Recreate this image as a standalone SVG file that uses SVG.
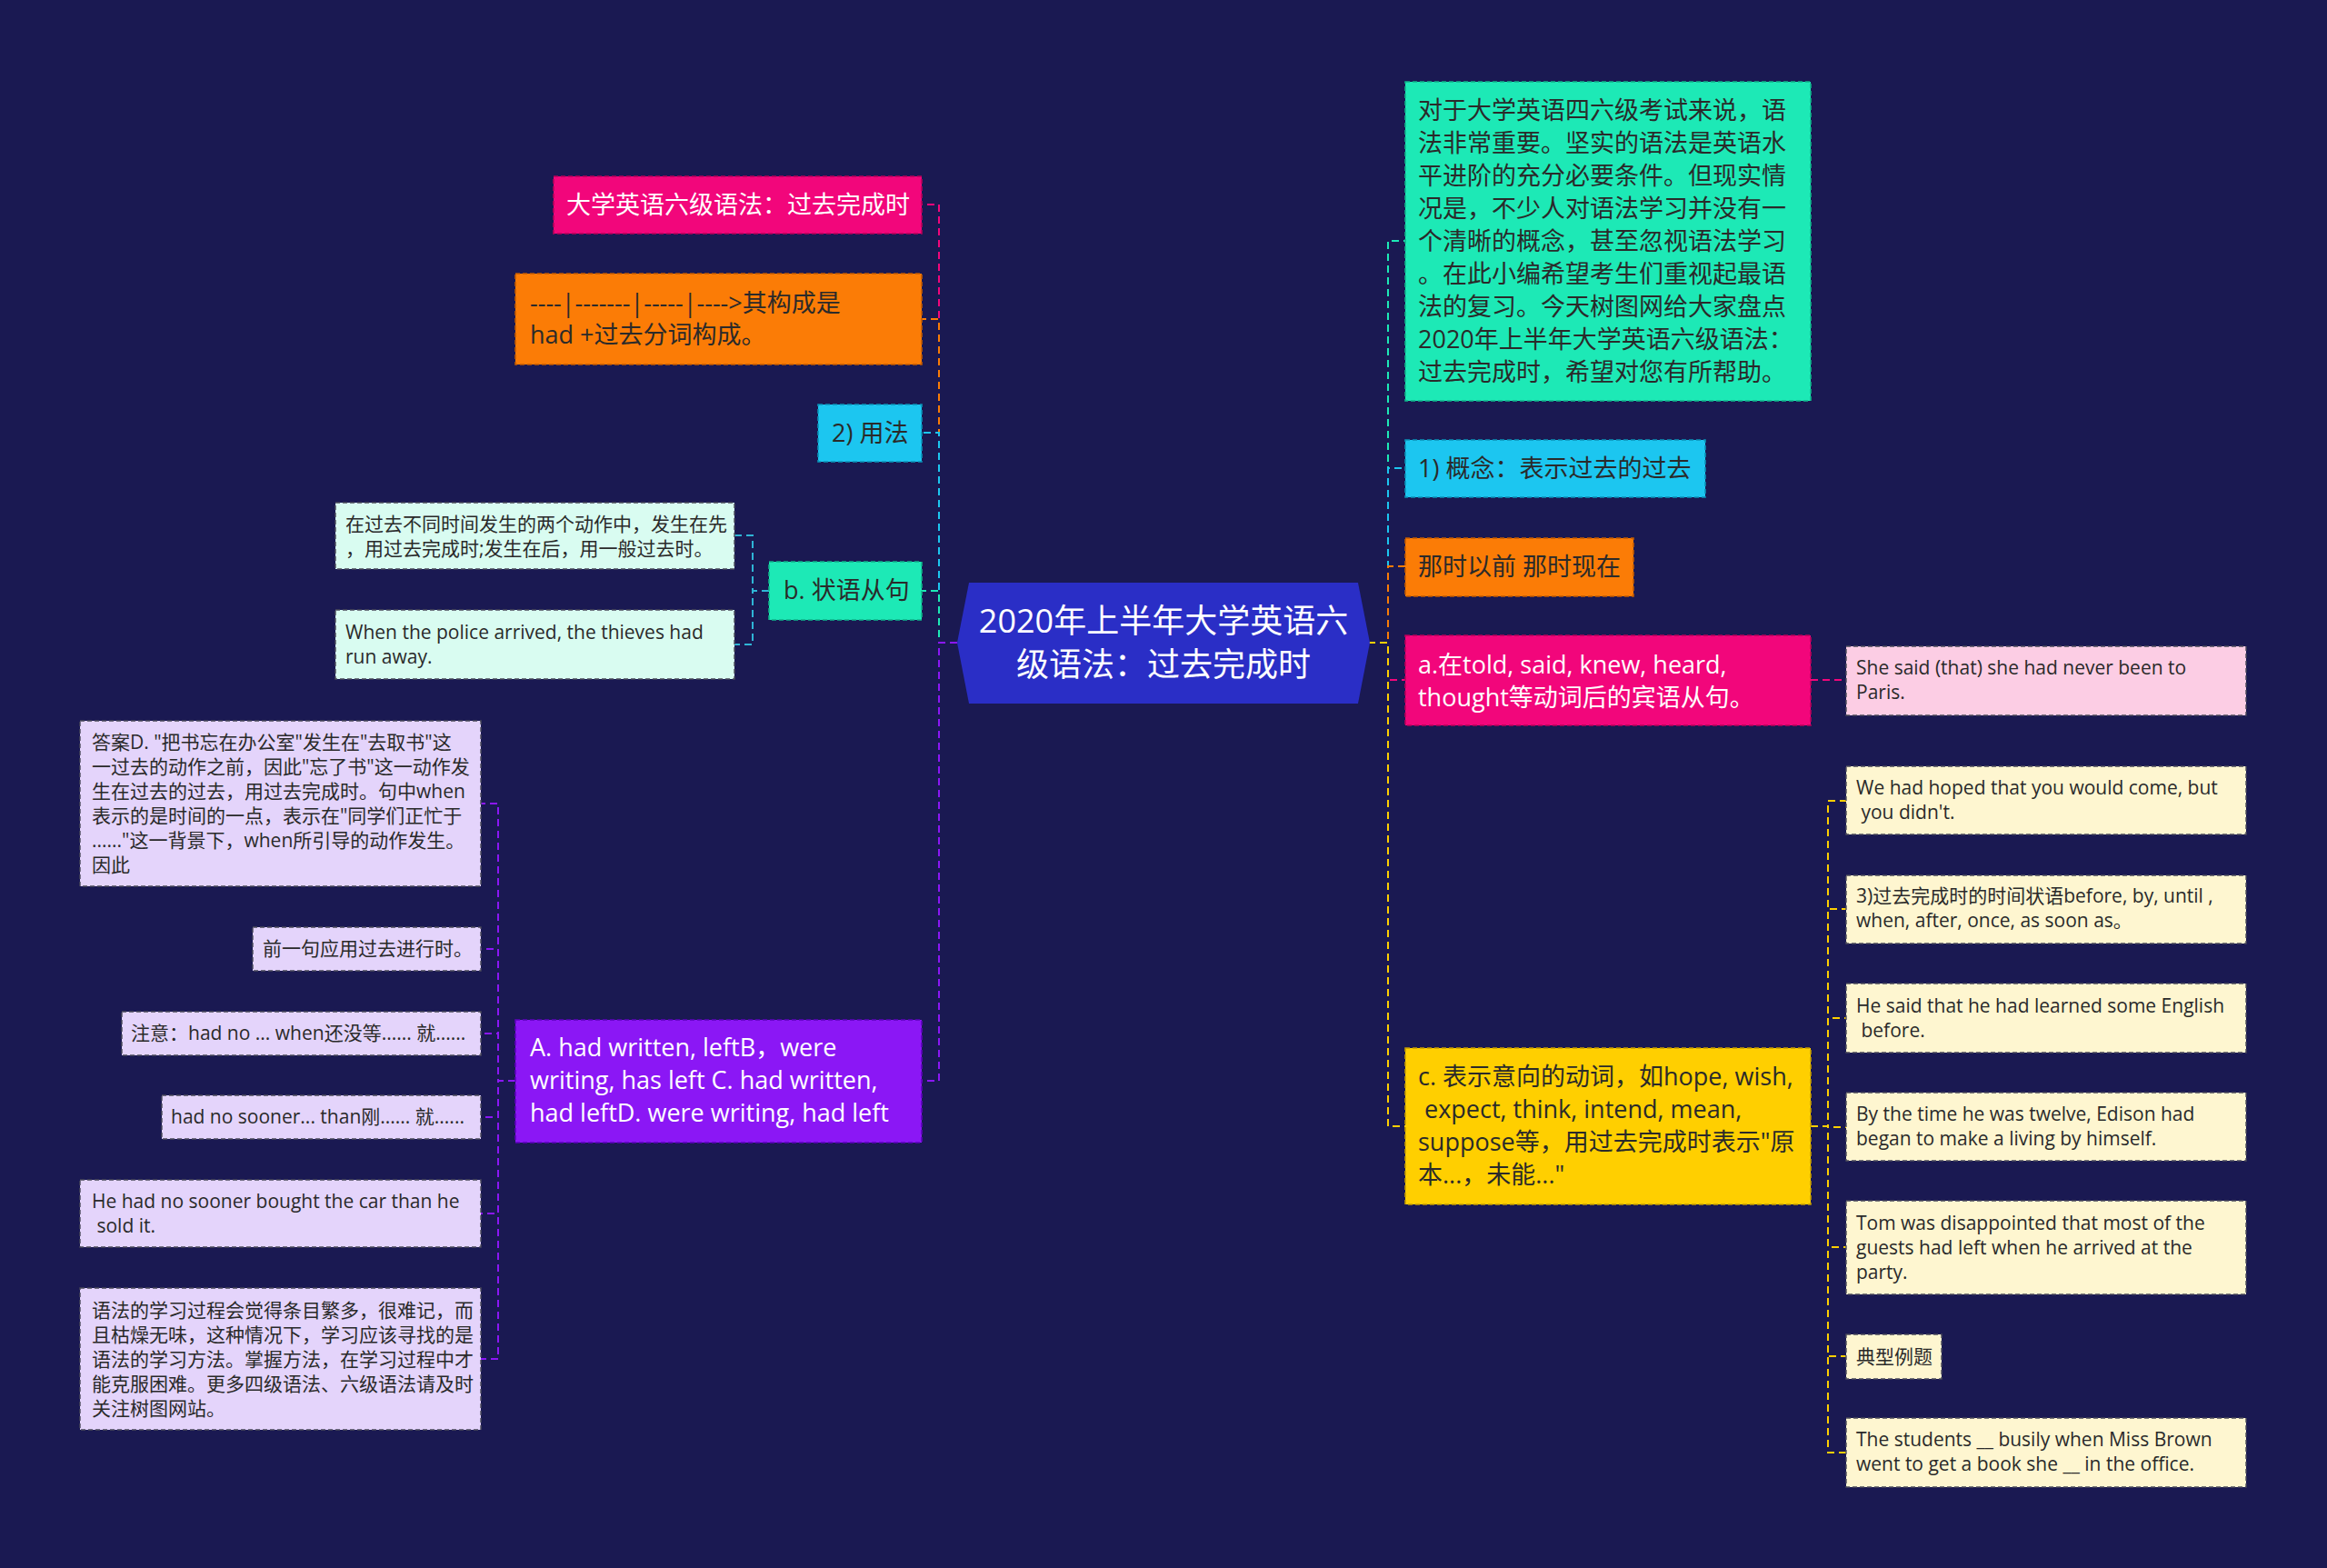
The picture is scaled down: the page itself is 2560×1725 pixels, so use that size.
<svg xmlns="http://www.w3.org/2000/svg" width="2560" height="1725" viewBox="0 0 2560 1725">
<style>
text{font-family:"Open Sans","Noto Sans CJK SC",sans-serif;}
.L{font-size:27px;}
.S{font-size:21px;}
.C{font-size:36px;fill:#ffffff;}
.w{fill:#ffffff;}
.d{fill:#2a2a2a;}
.c{fill:none;stroke-width:2;stroke-dasharray:8 5;}
.b{stroke-width:1.6;stroke-dasharray:5 3;}
.bl{stroke:#4a4a5a;stroke-width:1.4;stroke-dasharray:5 3;}
</style>
<rect x="0" y="0" width="2560" height="1725" fill="#1a1952"/>

<g id="connectors">
  <!-- left main -->
  <path class="c" stroke="#f2067b" d="M1053 707 H1033 V225 H1014"/>
  <path class="c" stroke="#fb7c06" d="M1053 707 H1033 V351 H1014"/>
  <path class="c" stroke="#1cc6f0" d="M1053 707 H1033 V476 H1014"/>
  <path class="c" stroke="#1de9b6" d="M1053 707 H1033 V650 H1014"/>
  <path class="c" stroke="#8b17f5" d="M1053 707 H1033 V1189 H1014"/>
  <!-- b children -->
  <path class="c" stroke="#2fb5d6" d="M846 650 H828 V589 H808"/>
  <path class="c" stroke="#2fb5d6" d="M846 650 H828 V709 H808"/>
  <!-- purple children -->
  <path class="c" stroke="#8b17f5" d="M567 1189 H548 V884 H529"/>
  <path class="c" stroke="#8b17f5" d="M567 1189 H548 V1044 H529"/>
  <path class="c" stroke="#8b17f5" d="M567 1189 H548 V1137 H529"/>
  <path class="c" stroke="#8b17f5" d="M567 1189 H548 V1229 H529"/>
  <path class="c" stroke="#8b17f5" d="M567 1189 H548 V1335 H529"/>
  <path class="c" stroke="#8b17f5" d="M567 1189 H548 V1495 H529"/>
  <!-- right main -->
  <path class="c" stroke="#1de9b6" d="M1505 707 H1527 V265 H1546"/>
  <path class="c" stroke="#1cc6f0" d="M1505 707 H1527 V515 H1546"/>
  <path class="c" stroke="#fb7c06" d="M1505 707 H1527 V623 H1546"/>
  <path class="c" stroke="#f2067b" d="M1505 707 H1527 V748 H1546"/>
  <path class="c" stroke="#ffcf00" d="M1505 707 H1527 V1239 H1546"/>
  <!-- pink child -->
  <path class="c" stroke="#f2067b" d="M1992 748 H2031"/>
  <!-- yellow children -->
  <path class="c" stroke="#ffcf00" d="M1992 1239 H2011 V881 H2031"/>
  <path class="c" stroke="#ffcf00" d="M1992 1239 H2011 V1000 H2031"/>
  <path class="c" stroke="#ffcf00" d="M1992 1239 H2011 V1120 H2031"/>
  <path class="c" stroke="#ffcf00" d="M1992 1239 H2011 V1240 H2031"/>
  <path class="c" stroke="#ffcf00" d="M1992 1239 H2011 V1372 H2031"/>
  <path class="c" stroke="#ffcf00" d="M1992 1239 H2011 V1492 H2031"/>
  <path class="c" stroke="#ffcf00" d="M1992 1239 H2011 V1598 H2031"/>
</g>

<g id="root">
  <polygon points="1053,707 1066,641 1494,641 1507,707 1494,774 1066,774" fill="#2a2ec6"/>
  <text class="C" x="1280" y="696" text-anchor="middle">2020年上半年大学英语六</text>
  <text class="C" x="1280" y="744" text-anchor="middle">级语法：过去完成时</text>
</g>

<!-- left side -->
<g id="n-title">
  <rect class="b" x="609" y="194" width="405" height="63" fill="#f2067b" stroke="#b8005a"/>
  <text class="L w" x="623" y="235">大学英语六级语法：过去完成时</text>
</g>
<g id="n-struct">
  <rect class="b" x="567" y="301" width="447" height="100" fill="#fb7c06" stroke="#c25a00"/>
  <text class="L d" x="583" y="343">----|-------|-----|----&gt;其构成是</text>
  <text class="L d" x="583" y="378">had +过去分词构成。</text>
</g>
<g id="n-usage">
  <rect class="b" x="900" y="445" width="114" height="63" fill="#1cc6f0" stroke="#0a93b8"/>
  <text class="L d" x="915" y="486">2) 用法</text>
</g>
<g id="n-adv">
  <rect class="b" x="846" y="618" width="168" height="64" fill="#1de9b6" stroke="#0fb48a"/>
  <text class="L d" x="862" y="659">b. 状语从句</text>
</g>
<g id="n-adv-1">
  <rect class="bl" x="369" y="553" width="439" height="73" fill="#d9fcf1"/>
  <text class="S d" x="380" y="584">在过去不同时间发生的两个动作中，发生在先</text>
  <text class="S d" x="380" y="611">，用过去完成时;发生在后，用一般过去时。</text>
</g>
<g id="n-adv-2">
  <rect class="bl" x="369" y="671" width="439" height="76" fill="#d9fcf1"/>
  <text class="S d" x="380" y="703">When the police arrived, the thieves had</text>
  <text class="S d" x="380" y="730">run away.</text>
</g>
<g id="n-options">
  <rect class="b" x="567" y="1122" width="447" height="135" fill="#8b17f5" stroke="#5e00bf"/>
  <text class="L w" x="583" y="1162">A. had written, leftB，were</text>
  <text class="L w" x="583" y="1198">writing, has left C. had written,</text>
  <text class="L w" x="583" y="1234">had leftD. were writing, had left</text>
</g>
<g id="n-opt-1">
  <rect class="bl" x="88" y="793" width="441" height="182" fill="#e4d4fb"/>
  <text class="S d" x="101" y="824">答案D. "把书忘在办公室"发生在"去取书"这</text>
  <text class="S d" x="101" y="851">一过去的动作之前，因此"忘了书"这一动作发</text>
  <text class="S d" x="101" y="878">生在过去的过去，用过去完成时。句中when</text>
  <text class="S d" x="101" y="905">表示的是时间的一点，表示在"同学们正忙于</text>
  <text class="S d" x="101" y="932">......"这一背景下，when所引导的动作发生。</text>
  <text class="S d" x="101" y="959">因此</text>
</g>
<g id="n-opt-2">
  <rect class="bl" x="278" y="1020" width="251" height="48" fill="#e4d4fb"/>
  <text class="S d" x="289" y="1051">前一句应用过去进行时。</text>
</g>
<g id="n-opt-3">
  <rect class="bl" x="134" y="1113" width="395" height="48" fill="#e4d4fb"/>
  <text class="S d" x="144" y="1144">注意：had no ... when还没等...... 就......</text>
</g>
<g id="n-opt-4">
  <rect class="bl" x="178" y="1205" width="351" height="48" fill="#e4d4fb"/>
  <text class="S d" x="188" y="1236">had no sooner... than刚...... 就......</text>
</g>
<g id="n-opt-5">
  <rect class="bl" x="88" y="1298" width="441" height="74" fill="#e4d4fb"/>
  <text class="S d" x="101" y="1329">He had no sooner bought the car than he</text>
  <text class="S d" x="101" y="1356" xml:space="preserve"> sold it.</text>
</g>
<g id="n-opt-6">
  <rect class="bl" x="88" y="1417" width="441" height="156" fill="#e4d4fb"/>
  <text class="S d" x="101" y="1449">语法的学习过程会觉得条目繁多，很难记，而</text>
  <text class="S d" x="101" y="1476">且枯燥无味，这种情况下，学习应该寻找的是</text>
  <text class="S d" x="101" y="1503">语法的学习方法。掌握方法，在学习过程中才</text>
  <text class="S d" x="101" y="1530">能克服困难。更多四级语法、六级语法请及时</text>
  <text class="S d" x="101" y="1557">关注树图网站。</text>
</g>

<!-- right side -->
<g id="n-intro">
  <rect class="b" x="1546" y="90" width="446" height="351" fill="#1de9b6" stroke="#0fb48a"/>
  <text class="L d" x="1560" y="131">对于大学英语四六级考试来说，语</text>
  <text class="L d" x="1560" y="167">法非常重要。坚实的语法是英语水</text>
  <text class="L d" x="1560" y="203">平进阶的充分必要条件。但现实情</text>
  <text class="L d" x="1560" y="239">况是，不少人对语法学习并没有一</text>
  <text class="L d" x="1560" y="275">个清晰的概念，甚至忽视语法学习</text>
  <text class="L d" x="1560" y="311">。在此小编希望考生们重视起最语</text>
  <text class="L d" x="1560" y="347">法的复习。今天树图网给大家盘点</text>
  <text class="L d" x="1560" y="383">2020年上半年大学英语六级语法：</text>
  <text class="L d" x="1560" y="419">过去完成时，希望对您有所帮助。</text>
</g>
<g id="n-concept">
  <rect class="b" x="1546" y="484" width="330" height="63" fill="#1cc6f0" stroke="#0a93b8"/>
  <text class="L d" x="1560" y="525">1) 概念：表示过去的过去</text>
</g>
<g id="n-then">
  <rect class="b" x="1546" y="592" width="251" height="64" fill="#fb7c06" stroke="#c25a00"/>
  <text class="L d" x="1560" y="633">那时以前 那时现在</text>
</g>
<g id="n-obj">
  <rect class="b" x="1546" y="699" width="446" height="99" fill="#f2067b" stroke="#b8005a"/>
  <text class="L w" x="1560" y="741">a.在told, said, knew, heard,</text>
  <text class="L w" x="1560" y="777">thought等动词后的宾语从句。</text>
</g>
<g id="n-obj-1">
  <rect class="bl" x="2031" y="711" width="440" height="76" fill="#fccde4"/>
  <text class="S d" x="2042" y="742">She said (that) she had never been to</text>
  <text class="S d" x="2042" y="769">Paris.</text>
</g>
<g id="n-intent">
  <rect class="b" x="1546" y="1153" width="446" height="172" fill="#ffcf00" stroke="#c49c00"/>
  <text class="L d" x="1560" y="1194">c. 表示意向的动词，如hope, wish,</text>
  <text class="L d" x="1560" y="1230" xml:space="preserve"> expect, think, intend, mean,</text>
  <text class="L d" x="1560" y="1266">suppose等，用过去完成时表示"原</text>
  <text class="L d" x="1560" y="1302">本...，未能..."</text>
</g>
<g id="n-int-1">
  <rect class="bl" x="2031" y="843" width="440" height="75" fill="#fef6d0"/>
  <text class="S d" x="2042" y="874">We had hoped that you would come, but</text>
  <text class="S d" x="2042" y="901" xml:space="preserve"> you didn't.</text>
</g>
<g id="n-int-2">
  <rect class="bl" x="2031" y="963" width="440" height="75" fill="#fef6d0"/>
  <text class="S d" x="2042" y="993">3)过去完成时的时间状语before, by, until ,</text>
  <text class="S d" x="2042" y="1020">when, after, once, as soon as。</text>
</g>
<g id="n-int-3">
  <rect class="bl" x="2031" y="1082" width="440" height="76" fill="#fef6d0"/>
  <text class="S d" x="2042" y="1114">He said that he had learned some English</text>
  <text class="S d" x="2042" y="1141" xml:space="preserve"> before.</text>
</g>
<g id="n-int-4">
  <rect class="bl" x="2031" y="1202" width="440" height="75" fill="#fef6d0"/>
  <text class="S d" x="2042" y="1233">By the time he was twelve, Edison had</text>
  <text class="S d" x="2042" y="1260">began to make a living by himself.</text>
</g>
<g id="n-int-5">
  <rect class="bl" x="2031" y="1321" width="440" height="103" fill="#fef6d0"/>
  <text class="S d" x="2042" y="1353">Tom was disappointed that most of the</text>
  <text class="S d" x="2042" y="1380">guests had left when he arrived at the</text>
  <text class="S d" x="2042" y="1407">party.</text>
</g>
<g id="n-int-6">
  <rect class="bl" x="2031" y="1468" width="105" height="49" fill="#fef6d0"/>
  <text class="S d" x="2042" y="1500">典型例题</text>
</g>
<g id="n-int-7">
  <rect class="bl" x="2031" y="1560" width="440" height="76" fill="#fef6d0"/>
  <text class="S d" x="2042" y="1591">The students __ busily when Miss Brown</text>
  <text class="S d" x="2042" y="1618">went to get a book she __ in the office.</text>
</g>
</svg>
